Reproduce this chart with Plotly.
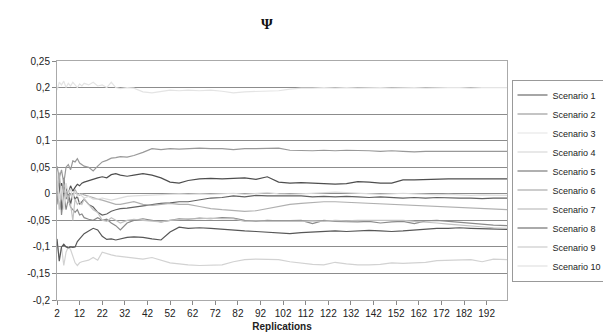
import plotly.graph_objects as go

replications = [2, 3, 4, 5, 6, 7, 8, 9, 10, 11, 12, 13, 14, 16, 18, 20, 22, 24, 26, 28, 30, 33, 36,
                40, 44, 48, 52, 56, 60, 65, 70, 75, 80, 85, 90, 95, 100, 105, 110, 115, 120, 125,
                130, 135, 140, 145, 150, 155, 160, 165, 170, 175, 180, 185, 190, 195, 201]

scenario_1 = [0.03, 0.0, 0.02, -0.01, 0.01, 0.0, 0.015, 0.005, 0.012, 0.018, 0.015, 0.02, 0.022, 0.025,
              0.027, 0.03, 0.032, 0.03, 0.036, 0.038, 0.035, 0.033, 0.035, 0.038, 0.035, 0.03, 0.022,
              0.02, 0.025, 0.028, 0.029, 0.028, 0.029, 0.03, 0.027, 0.032, 0.022, 0.02, 0.021, 0.02,
              0.018, 0.018, 0.019, 0.023, 0.022, 0.02, 0.02, 0.026, 0.026, 0.027, 0.027, 0.028, 0.028,
              0.028, 0.028, 0.028, 0.028]
scenario_2 = [-0.02, 0.03, -0.04, 0.0, -0.03, -0.01, -0.025, -0.03, -0.035, -0.03, -0.04, -0.038, -0.045,
              -0.048, -0.05, -0.045, -0.05, -0.048, -0.055, -0.06, -0.068, -0.055, -0.05, -0.047, -0.05,
              -0.053, -0.05, -0.047, -0.048, -0.046, -0.047, -0.045, -0.046, -0.05, -0.052, -0.05, -0.051,
              -0.05, -0.05, -0.056, -0.05, -0.052, -0.053, -0.053, -0.052, -0.055, -0.053, -0.052, -0.056,
              -0.051, -0.05, -0.052, -0.054, -0.056, -0.058, -0.059, -0.06]
scenario_3 = [0.195, 0.21, 0.205, 0.212, 0.2, 0.208, 0.203, 0.21, 0.205, 0.2, 0.207, 0.203, 0.208, 0.205,
              0.21, 0.203, 0.205, 0.2, 0.21, 0.2, 0.198, 0.2, 0.199, 0.192, 0.19, 0.193, 0.195, 0.194,
              0.195, 0.194, 0.195, 0.193, 0.19, 0.192, 0.193, 0.193, 0.194, 0.197, 0.199, 0.199, 0.2,
              0.199, 0.2, 0.199, 0.2, 0.2, 0.199, 0.2, 0.2, 0.199, 0.2, 0.2, 0.2, 0.199, 0.2, 0.2, 0.2]
scenario_4 = [-0.09, -0.12, -0.1, -0.135, -0.11, -0.1, -0.105, -0.12, -0.13, -0.135, -0.13, -0.128, -0.127,
              -0.125, -0.12, -0.125, -0.11, -0.113, -0.115, -0.117, -0.118, -0.12, -0.122, -0.123, -0.12,
              -0.125, -0.13, -0.132, -0.134, -0.135, -0.134, -0.134, -0.128, -0.124, -0.123, -0.123,
              -0.124, -0.128, -0.131, -0.133, -0.134, -0.129, -0.132, -0.134, -0.134, -0.133, -0.13,
              -0.131, -0.13, -0.129, -0.126, -0.125, -0.124, -0.124, -0.128, -0.123, -0.124]
scenario_5 = [0.0, 0.02, -0.03, 0.03, -0.01, 0.005, -0.02, 0.0, -0.01, -0.005, -0.02, -0.015, -0.01, -0.02,
              -0.025, -0.035, -0.04, -0.038, -0.033, -0.03, -0.028, -0.027, -0.025, -0.022, -0.02, -0.018,
              -0.017, -0.015, -0.015, -0.012, -0.008, -0.007, -0.004, -0.006, -0.003, -0.004, -0.004,
              -0.005, -0.004, -0.006, -0.005, -0.006, -0.005, -0.006, -0.007, -0.006, -0.007, -0.008,
              -0.007, -0.008, -0.007, -0.008, -0.008, -0.008, -0.009, -0.008, -0.008]
scenario_6 = [0.052, 0.03, 0.045, 0.02, 0.05, 0.055, 0.045, 0.062, 0.06, 0.066, 0.058, 0.055, 0.052, 0.05,
              0.043, 0.052, 0.06, 0.063, 0.067, 0.068, 0.07, 0.069, 0.072, 0.078, 0.085, 0.083, 0.085,
              0.084, 0.085, 0.086, 0.085, 0.085, 0.083, 0.085, 0.085, 0.086, 0.086, 0.082, 0.081, 0.081,
              0.082, 0.081, 0.082, 0.082, 0.081, 0.08, 0.081, 0.08, 0.079, 0.08, 0.08, 0.081, 0.08, 0.08,
              0.08, 0.08, 0.08]
scenario_7 = [0.01, 0.04, -0.01, 0.02, 0.005, -0.01, 0.0, -0.005, 0.008, 0.0, -0.003, 0.0, -0.002, -0.005,
              -0.008, -0.01, -0.012, -0.015, -0.018, -0.02, -0.02, -0.018, -0.015, -0.02, -0.022, -0.02,
              -0.018, -0.02, -0.02, -0.024, -0.028, -0.03, -0.032, -0.033, -0.032, -0.028, -0.024, -0.02,
              -0.018, -0.016, -0.015, -0.015, -0.016, -0.017, -0.017, -0.018, -0.019, -0.02, -0.021,
              -0.022, -0.023, -0.025, -0.026, -0.027, -0.028, -0.029, -0.03]
scenario_8 = [-0.085, -0.127, -0.1, -0.095, -0.1, -0.102, -0.1, -0.101, -0.1, -0.09, -0.085, -0.08, -0.075,
              -0.07, -0.065, -0.068, -0.08, -0.086, -0.085, -0.087, -0.085, -0.082, -0.081, -0.082,
              -0.085, -0.087, -0.072, -0.063, -0.065, -0.064, -0.065, -0.067, -0.068, -0.07, -0.071,
              -0.072, -0.073, -0.075, -0.073, -0.072, -0.071, -0.07, -0.071, -0.07, -0.069, -0.07,
              -0.071, -0.07, -0.068, -0.066, -0.065, -0.065, -0.064, -0.065, -0.066, -0.067, -0.067]
scenario_9 = [0.02, -0.03, 0.01, -0.02, 0.0, -0.015, -0.02, -0.05, -0.01, -0.02, -0.015, -0.02, -0.01,
              -0.02, -0.03, -0.035, -0.05, -0.052, -0.045, -0.05, -0.055, -0.05, -0.048, -0.05, -0.052,
              -0.053, -0.05, -0.048, -0.047, -0.047, -0.046, -0.047, -0.047, -0.052, -0.051, -0.052,
              -0.052, -0.053, -0.052, -0.051, -0.052, -0.05, -0.051, -0.05, -0.05, -0.05, -0.049, -0.05,
              -0.052, -0.053, -0.055, -0.057, -0.059, -0.061, -0.062, -0.064, -0.065]
scenario_10 = [0.04, -0.01, 0.015, -0.03, 0.02, 0.0, 0.01, -0.01, 0.005, -0.005, 0.0, -0.005, -0.008,
               -0.005, -0.01, -0.01, -0.008, -0.01, -0.012, -0.01, -0.008, -0.005, -0.004, -0.003,
               -0.002, -0.001, -0.001, 0.0, -0.001, 0.0, -0.001, 0.0, 0.001, -0.001, 0.0, 0.002, 0.0,
               -0.001, 0.0, 0.001, 0.002, 0.003, 0.002, 0.001, 0.0, -0.001, 0.0, 0.001, 0.0, -0.001,
               -0.002, -0.001, -0.002, -0.003, -0.002, -0.003, -0.003]

series_names = ["Scenario 1", "Scenario 2", "Scenario 3", "Scenario 4", "Scenario 5",
                "Scenario 6", "Scenario 7", "Scenario 8", "Scenario 9", "Scenario 10"]
series_values = [scenario_1, scenario_2, scenario_3, scenario_4, scenario_5,
                 scenario_6, scenario_7, scenario_8, scenario_9, scenario_10]
series_colors = ["#4e4e4e", "#8a8a8a", "#e4e4e4", "#d2d2d2", "#626262",
                 "#999999", "#b0b0b0", "#575757", "#c2c2c2", "#dcdcdc"]

y_tick_vals = [0.25, 0.2, 0.15, 0.1, 0.05, 0, -0.05, -0.1, -0.15, -0.2]
y_tick_text = ["0,25", "0,2", "0,15", "0,1", "0,05", "0", "-0,05", "-0,1", "-0,15", "-0,2"]
x_tick_vals = list(range(2, 193, 10))

fig = go.Figure()
for name, vals, col in zip(series_names, series_values, series_colors):
    fig.add_trace(go.Scatter(x=replications, y=vals, name=name, mode="lines",
                             line=dict(color=col, width=1.2)))

fig.update_layout(
    width=611, height=333,
    margin=dict(l=49, r=90, t=53, b=41),
    paper_bgcolor="white", plot_bgcolor="white",
    font=dict(family="Liberation Sans, Arial, sans-serif", size=10, color="#222"),
    showlegend=True,
    legend=dict(x=1.01, y=0.5, xanchor="left", yanchor="middle",
                bordercolor="#999", borderwidth=1, bgcolor="white",
                font=dict(size=9), itemwidth=30, tracegroupgap=0),
    annotations=[dict(text="<b>Ψ</b>", x=0.466, y=1.0, xref="paper", yref="paper",
                      yshift=37, yanchor="middle", showarrow=False,
                      font=dict(family="Liberation Serif, Times New Roman, serif", size=15, color="#111"))],
)
fig.update_xaxes(range=[2, 201], tickvals=x_tick_vals, ticktext=[str(v) for v in x_tick_vals],
                 ticks="outside", ticklen=4, tickcolor="#888", showgrid=False,
                 showline=True, linecolor="#aaa", mirror=True, zeroline=False,
                 title=dict(text="<b>Replications</b>", standoff=4, font=dict(size=10)))
fig.update_yaxes(range=[-0.2, 0.25], tickvals=y_tick_vals, ticktext=y_tick_text,
                 ticks="outside", ticklen=4, tickcolor="#888",
                 showgrid=True, gridcolor="#8c8c8c", gridwidth=1,
                 showline=True, linecolor="#aaa", mirror=True, zeroline=False)

fig.write_html("out.html")
